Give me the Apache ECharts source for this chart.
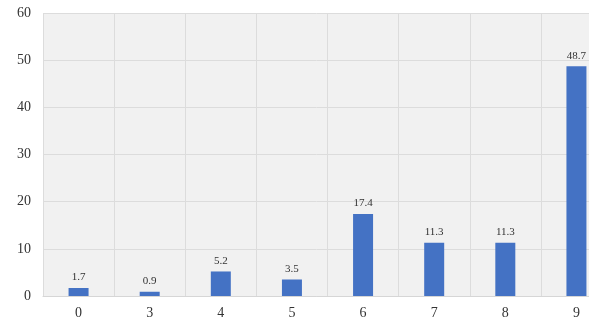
<!DOCTYPE html>
<html>
<head>
<meta charset="utf-8">
<script src="https://cdn.jsdelivr.net/npm/echarts@6/dist/echarts.min.js"></script>
<style>
html,body{margin:0;padding:0;background:#fff;}
#c{width:589px;height:323px;}
</style>
</head>
<body>
<div id="c"></div>
<script>
const categories = ['0', '3', '4', '5', '6', '7', '8', '9'];
const values = [1.7, 0.9, 5.2, 3.5, 17.4, 11.3, 11.3, 48.7];
const yTicks = [0, 10, 20, 30, 40, 50, 60];

const chart = echarts.init(document.getElementById('c'), null, {renderer: 'canvas'});
chart.setOption({
  animation: false,
  grid: {
    left: 43, width: 569, top: 13, height: 283,
    outerBoundsMode: 'none', containLabel: false,
    show: true, backgroundColor: '#f1f1f1', borderWidth: 0
  },
  xAxis: {
    type: 'category',
    data: categories,
    boundaryGap: true,
    axisTick: {show: false},
    axisLine: {show: true, lineStyle: {color: '#d6d6d6', width: 1}},
    axisLabel: {color: '#333', fontFamily: 'Liberation Serif', fontSize: 14, margin: 10},
    splitLine: {show: true, lineStyle: {color: '#dcdcdc', width: 1}}
  },
  yAxis: {
    type: 'value',
    min: yTicks[0], max: yTicks[yTicks.length - 1], interval: 10,
    axisLine: {show: false},
    axisTick: {show: false},
    axisLabel: {color: '#333', fontFamily: 'Liberation Serif', fontSize: 14, margin: 12},
    splitLine: {show: true, lineStyle: {color: '#dcdcdc', width: 1}}
  },
  series: [{
    type: 'bar',
    data: values,
    barWidth: 20,
    itemStyle: {color: '#4472c4'},
    label: {
      show: true, position: 'top', distance: 5,
      color: '#333', fontFamily: 'Liberation Serif', fontSize: 11
    }
  }]
});
</script>
</body>
</html>
